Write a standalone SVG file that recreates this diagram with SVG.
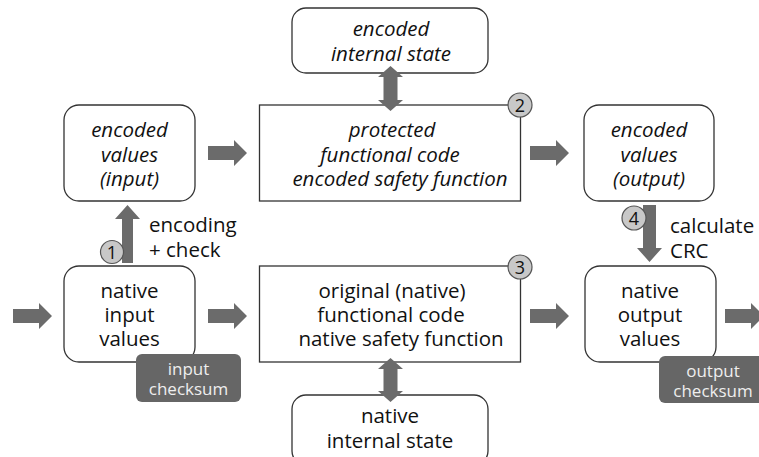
<svg xmlns="http://www.w3.org/2000/svg" width="759" height="457" viewBox="0 0 759 457">
<style>
.box{fill:#fff;stroke:#333;stroke-width:1.3}
.t{font-family:"Open Sans","DejaVu Sans",sans-serif;font-size:20.5px;fill:#111;text-anchor:middle}
.i{font-style:italic}
.l{text-anchor:start}
.ck{fill:#666}
.ckt{font-family:"Open Sans","DejaVu Sans",sans-serif;font-size:17px;fill:#eee;text-anchor:middle}
.arr{fill:#6b6b6b}
.badge{fill:#c8c8c8;stroke:#555;stroke-width:1.2}
.bt{font-family:"Open Sans","DejaVu Sans",sans-serif;font-size:18px;fill:#111;text-anchor:middle}
</style>
<defs>
<path id="ah" d="M0,-7 H26 V-13 L39,0 L26,13 V7 H0 Z"/>
</defs>
<rect width="759" height="457" fill="#fff"/>
<g id="enc-internal-state">
<rect class="box" x="292" y="8" width="196" height="65" rx="14"/>
<text class="t i" x="391" y="36">encoded</text>
<text class="t i" x="391" y="61">internal state</text>
</g>
<g id="enc-values-input">
<rect class="box" x="64" y="105" width="131" height="96" rx="15"/>
<text class="t i" x="129.5" y="137">encoded</text>
<text class="t i" x="129.5" y="162">values</text>
<text class="t i" x="129.5" y="186">(input)</text>
</g>
<g id="protected-code">
<rect class="box" x="259.5" y="105" width="261" height="96"/>
<text class="t i" x="392" y="137">protected</text>
<text class="t i" x="390" y="162">functional code</text>
<text class="t i" x="400" y="186">encoded safety function</text>
</g>
<g id="enc-values-output">
<rect class="box" x="584" y="105" width="130" height="96" rx="15"/>
<text class="t i" x="649" y="137">encoded</text>
<text class="t i" x="649" y="162">values</text>
<text class="t i" x="649" y="186">(output)</text>
</g>
<g id="native-input-values">
<rect class="box" x="64" y="266" width="131" height="96" rx="15"/>
<text class="t" x="129.5" y="298">native</text>
<text class="t" x="129.5" y="322">input</text>
<text class="t" x="129.5" y="346">values</text>
</g>
<g id="input-checksum">
<rect class="ck" x="136" y="354" width="105" height="48" rx="6"/>
<text class="ckt" x="188.5" y="375">input</text>
<text class="ckt" x="188.5" y="395">checksum</text>
</g>
<g id="original-code">
<rect class="box" x="259.5" y="266" width="261" height="96"/>
<text class="t" x="392" y="298">original (native)</text>
<text class="t" x="391" y="322">functional code</text>
<text class="t" x="401" y="346">native safety function</text>
</g>
<g id="native-output-values">
<rect class="box" x="585" y="266" width="131" height="96" rx="15"/>
<text class="t" x="650" y="298">native</text>
<text class="t" x="650" y="322">output</text>
<text class="t" x="650" y="346">values</text>
</g>
<g id="output-checksum">
<rect class="ck" x="659" y="356" width="110" height="47" rx="6"/>
<text class="ckt" x="713" y="377">output</text>
<text class="ckt" x="713" y="397">checksum</text>
</g>
<g id="native-internal-state">
<rect class="box" x="292" y="395" width="196" height="70" rx="14"/>
<text class="t" x="390" y="423">native</text>
<text class="t" x="390" y="448">internal state</text>
</g>
<g id="connectors">
<use href="#ah" class="arr" transform="translate(208,153)"/>
<use href="#ah" class="arr" transform="translate(530,153)"/>
<use href="#ah" class="arr" transform="translate(13,316)"/>
<use href="#ah" class="arr" transform="translate(208,316)"/>
<use href="#ah" class="arr" transform="translate(530,316)"/>
<use href="#ah" class="arr" transform="translate(725,316)"/>
<path class="arr" d="M122,263 V219 H115 L127.5,205 L140,219 H133 V263 Z"/>
<path class="arr" d="M643,205 V248 H637 L649.5,262 L662,248 H656 V205 Z"/>
<path class="arr" d="M383.5,77 H378 L390.5,66 L403,77 H397.5 V100 H403 L390.5,111 L378,100 H383.5 Z"/>
<path class="arr" d="M383.5,369 H378 L390.5,358 L403,369 H397.5 V391 H403 L390.5,402 L378,391 H383.5 Z"/>
<text class="t l" x="149" y="232">encoding</text>
<text class="t l" x="149" y="257">+ check</text>
<text class="t l" x="670" y="233">calculate</text>
<text class="t l" x="670" y="258">CRC</text>
</g>
<g id="badges">
<circle class="badge" cx="112" cy="252" r="11.5"/><text class="bt" x="112" y="258.5">1</text>
<circle class="badge" cx="520" cy="105" r="12"/><text class="bt" x="520" y="111.5">2</text>
<circle class="badge" cx="520" cy="267" r="12"/><text class="bt" x="520" y="273.5">3</text>
<circle class="badge" cx="634" cy="218" r="12"/><text class="bt" x="634" y="224.5">4</text>
</g>
</svg>
